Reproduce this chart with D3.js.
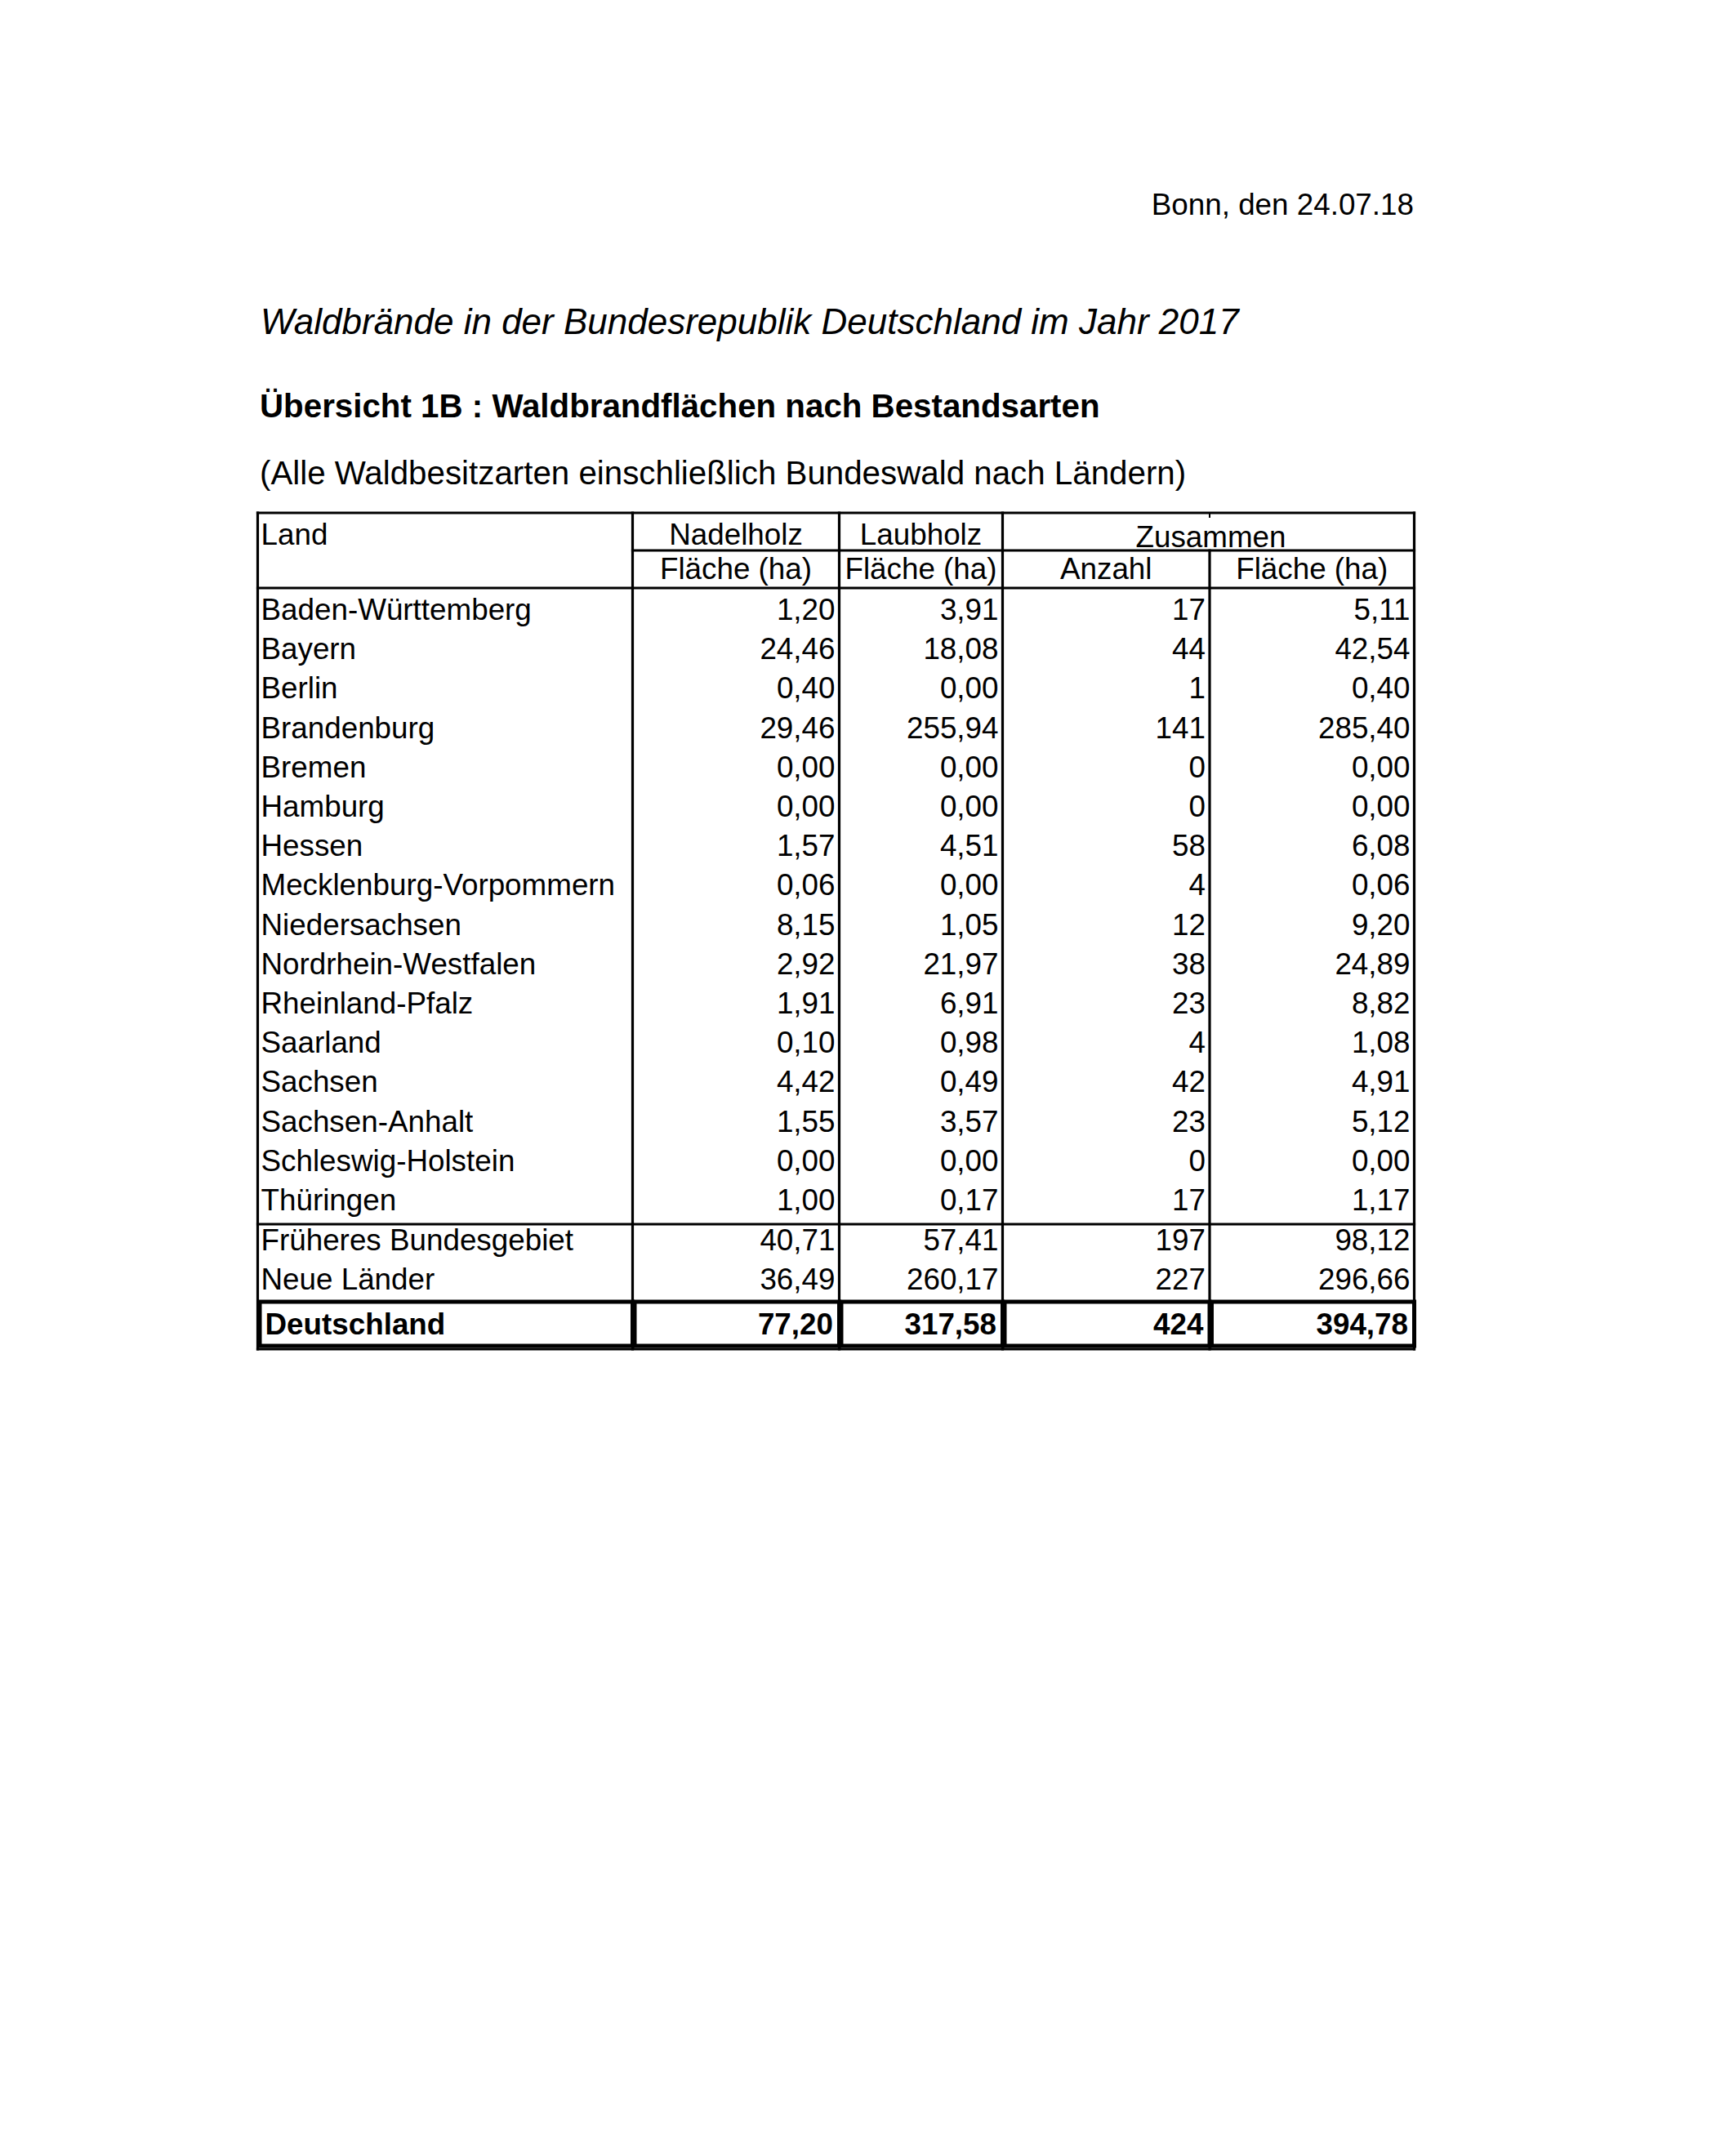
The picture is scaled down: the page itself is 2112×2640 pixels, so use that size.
<!DOCTYPE html>
<html><head><meta charset="utf-8">
<script src="https://cdn.jsdelivr.net/npm/d3@7"></script>
<style>
html,body{margin:0;padding:0;background:#fff;}
svg{display:block;}
text{font-family:"Liberation Sans",Arial,Helvetica,sans-serif;fill:#000;}
</style></head>
<body>
<div id="chart"></div>
<script>
// ---- data ----
const dateLine = "Bonn, den 24.07.18";
const title = "Waldbrände in der Bundesrepublik Deutschland im Jahr 2017";
const subtitle = "Übersicht 1B : Waldbrandflächen nach Bestandsarten";
const note = "(Alle Waldbesitzarten einschließlich Bundeswald nach Ländern)";
const headTop = ["Land", "Nadelholz", "Laubholz", "Zusammen"];
const headSub = ["Fläche (ha)", "Fläche (ha)", "Anzahl", "Fläche (ha)"];
const lands = ["Baden-Württemberg","Bayern","Berlin","Brandenburg","Bremen","Hamburg","Hessen","Mecklenburg-Vorpommern","Niedersachsen","Nordrhein-Westfalen","Rheinland-Pfalz","Saarland","Sachsen","Sachsen-Anhalt","Schleswig-Holstein","Thüringen"];
const nadelholz = [1.20,24.46,0.40,29.46,0.00,0.00,1.57,0.06,8.15,2.92,1.91,0.10,4.42,1.55,0.00,1.00];
const laubholz  = [3.91,18.08,0.00,255.94,0.00,0.00,4.51,0.00,1.05,21.97,6.91,0.98,0.49,3.57,0.00,0.17];
const anzahl    = [17,44,1,141,0,0,58,4,12,38,23,4,42,23,0,17];
const flaeche   = [5.11,42.54,0.40,285.40,0.00,0.00,6.08,0.06,9.20,24.89,8.82,1.08,4.91,5.12,0.00,1.17];
const subLabels  = ["Früheres Bundesgebiet","Neue Länder"];
const subNadel   = [40.71,36.49];
const subLaub    = [57.41,260.17];
const subAnzahl  = [197,227];
const subFlaeche = [98.12,296.66];
const totalLabel = "Deutschland";
const totalValues = [77.20,317.58,424,394.78];

// ---- layout ----
const W = 2112, H = 2640;
const edges = [315.5, 774.5, 1027.5, 1227.5, 1481, 1731.5];
const yTop = 628, yMid = 674, yHead = 720, ySub = 1499, yTot = 1594, yTotB = 1648, yBot = 1652;
const fs = 36.8;
const pad = 5;

const loc = d3.formatLocale({decimal: ",", thousands: ".", grouping: [3], currency: ["", " €"]});
const fArea = loc.format(".2f");
const fCount = loc.format("d");
const fmts = [fArea, fArea, fCount, fArea];

const svg = d3.select("#chart").append("svg").attr("width", W).attr("height", H);
svg.append("rect").attr("width", W).attr("height", H).attr("fill", "#fff");

// header texts
svg.append("text").attr("x", 1731).attr("y", 263).attr("text-anchor", "end")
  .style("font-size", fs + "px").text(dateLine);
svg.append("text").attr("x", 319).attr("y", 409)
  .style("font-size", "44px").style("font-style", "italic").text(title);
svg.append("text").attr("x", 318).attr("y", 511)
  .style("font-size", "40.3px").style("font-weight", "bold").text(subtitle);
svg.append("text").attr("x", 318).attr("y", 593)
  .style("font-size", "40.3px").text(note);

// scales
const colIdx = d3.range(5);
const xLeft = d3.scaleOrdinal().domain(colIdx).range(edges.slice(0, 5));
const xRight = d3.scaleOrdinal().domain(colIdx).range(edges.slice(1));
const yRow = d3.scaleLinear().domain([0, lands.length - 1]).range([759, 759 + 48.2 * (lands.length - 1)]);
const ySubRow = d3.scaleLinear().domain([0, 1]).range([1531, 1579]);
const yTotal = 1634;

// grid lines
const hLines = [
  {x1: edges[0], x2: edges[5], y: yTop},
  {x1: edges[1], x2: edges[5], y: yMid},
  {x1: edges[0], x2: edges[5], y: yHead},
  {x1: edges[0], x2: edges[5], y: ySub},
  {x1: edges[0], x2: edges[5], y: yBot}
];
const vLines = [
  {x: edges[0], y1: yTop, y2: yBot},
  {x: edges[1], y1: yTop, y2: yBot},
  {x: edges[2], y1: yTop, y2: yBot},
  {x: edges[3], y1: yTop, y2: yBot},
  {x: edges[4], y1: yMid, y2: yBot},
  {x: edges[5], y1: yTop, y2: yBot}
];
const g = svg.append("g").attr("stroke", "#000").attr("stroke-width", 3.2).attr("fill", "none");
g.selectAll("line.h").data(hLines).join("line").attr("class", "h")
  .attr("x1", d => d.x1 - 1.6).attr("x2", d => d.x2 + 1.6).attr("y1", d => d.y).attr("y2", d => d.y);
g.selectAll("line.v").data(vLines).join("line").attr("class", "v")
  .attr("x1", d => d.x).attr("x2", d => d.x).attr("y1", d => d.y1 - 1.6).attr("y2", d => d.y2 + 1.6);
// small mark on top border above the Anzahl/Fläche divider
g.append("line").attr("x1", edges[4]).attr("x2", edges[4]).attr("y1", yTop).attr("y2", yTop + 6).attr("stroke-width", 2);

// thick boxes around total row cells
g.selectAll("rect.tot").data(colIdx).join("rect").attr("class", "tot")
  .attr("x", i => xLeft(i) + 2.5).attr("y", yTot)
  .attr("width", i => xRight(i) - xLeft(i) - 2.5).attr("height", yTotB - yTot)
  .attr("stroke-width", 5);

// header labels
const th = svg.append("g").style("font-size", fs + "px");
th.append("text").attr("x", edges[0] + 4).attr("y", 667).text(headTop[0]);
th.append("text").attr("x", (edges[1] + edges[2]) / 2).attr("y", 667).attr("text-anchor", "middle").text(headTop[1]);
th.append("text").attr("x", (edges[2] + edges[3]) / 2).attr("y", 667).attr("text-anchor", "middle").text(headTop[2]);
th.append("text").attr("x", (edges[3] + edges[5]) / 2 + 3).attr("y", 670).attr("text-anchor", "middle").text(headTop[3]);
th.selectAll("text.sub").data(headSub).join("text").attr("class", "sub")
  .attr("x", (d, i) => (xLeft(i + 1) + xRight(i + 1)) / 2).attr("y", 709)
  .attr("text-anchor", "middle").text(d => d);

// body rows
const rows = lands.map((l, i) => ({label: l, vals: [nadelholz[i], laubholz[i], anzahl[i], flaeche[i]], y: yRow(i)}));
subLabels.forEach((l, i) => rows.push({label: l, vals: [subNadel[i], subLaub[i], subAnzahl[i], subFlaeche[i]], y: ySubRow(i)}));

const body = svg.append("g").style("font-size", fs + "px");
const rg = body.selectAll("g.row").data(rows).join("g").attr("class", "row");
rg.append("text").attr("x", edges[0] + 4).attr("y", d => d.y).text(d => d.label);
rg.selectAll("text.v").data(d => d.vals.map((v, j) => ({v, j, y: d.y}))).join("text").attr("class", "v")
  .attr("x", d => xRight(d.j + 1) - pad).attr("y", d => d.y).attr("text-anchor", "end")
  .text(d => fmts[d.j](d.v));

// total row
const tg = svg.append("g").style("font-size", fs + "px").style("font-weight", "bold");
tg.append("text").attr("x", edges[0] + 9).attr("y", yTotal).text(totalLabel);
tg.selectAll("text.v").data(totalValues).join("text").attr("class", "v")
  .attr("x", (d, j) => xRight(j + 1) - 7.5).attr("y", yTotal).attr("text-anchor", "end")
  .text((d, j) => fmts[j](d));
</script>
</body></html>
